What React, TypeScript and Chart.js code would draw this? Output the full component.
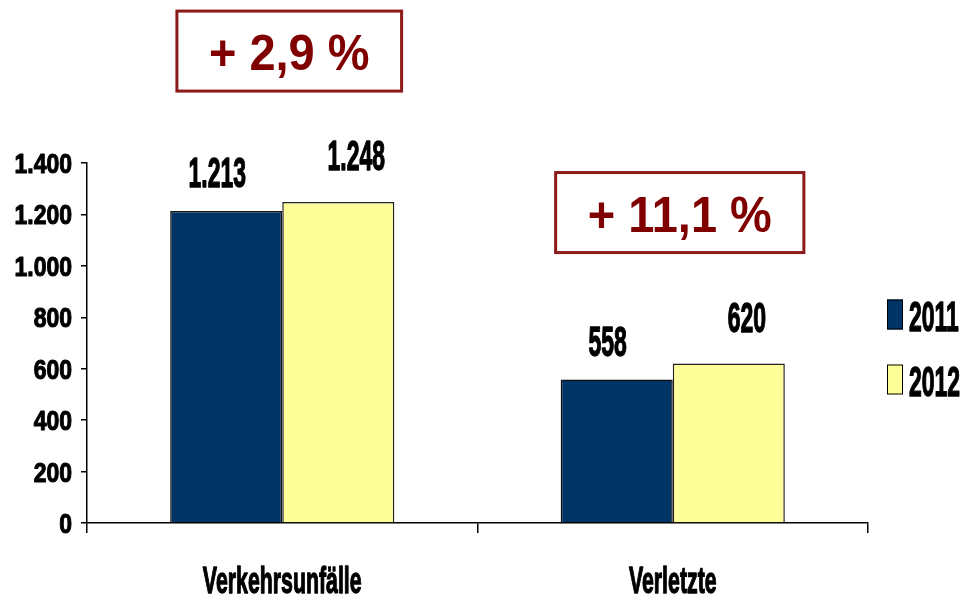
import React, { useEffect, useRef } from "react";
import { Chart, registerables } from "chart.js";

Chart.register(...registerables);

// ---- data ----
const categories = ["Verkehrsunfälle", "Verletzte"];
const seriesNames = ["2011", "2012"];
const values2011 = [1213, 558];
const values2012 = [1248, 620];
const changeLabels = ["+ 2,9 %", "+ 11,1 %"];
const yMin = 0;
const yMax = 1400;
const yStep = 200;

// ---- styles ----
const FONT = '"Liberation Sans", Arial, sans-serif';
const NAVY = "#003366";
const YELLOW = "#FFFF99";
const DARKRED = "#800000";
const NARROW_X = 0.82;

const fmt = (v: number) => String(Math.round(v)).replace(/\B(?=(\d{3})+(?!\d))/g, ".");

function drawText(
  ctx: CanvasRenderingContext2D,
  text: string,
  x: number,
  y: number,
  size: number,
  sx: number,
  sy: number,
  color: string,
  align: CanvasTextAlign = "center",
  heavy = 0
) {
  ctx.save();
  ctx.font = `bold ${size}px ${FONT}`;
  ctx.fillStyle = color;
  ctx.strokeStyle = color;
  ctx.textAlign = align;
  ctx.textBaseline = "alphabetic";
  ctx.translate(x, y);
  ctx.scale(sx, sy);
  ctx.fillText(text, 0, 0);
  if (heavy > 0) {
    ctx.lineWidth = heavy;
    ctx.lineJoin = "round";
    ctx.strokeText(text, 0, 0);
  }
  ctx.restore();
}

const overlayPlugin = {
  id: "overlay",
  afterDraw(chart: any) {
    const ctx: CanvasRenderingContext2D = chart.ctx;
    const area = chart.chartArea;
    const xs = chart.scales.x;
    const ys = chart.scales.y;

    // y tick labels
    ys.ticks.forEach((t: any) => {
      const y = ys.getPixelForValue(t.value);
      drawText(ctx, fmt(t.value), area.left - 15, y + 10, 28, NARROW_X, 1.0, "#000", "right", 1.1);
    });

    // value labels above bars
    chart.data.datasets.forEach((ds: any, di: number) => {
      const meta = chart.getDatasetMeta(di);
      meta.data.forEach((el: any, i: number) => {
        const dx = di === 0 ? -9 : 18;
        const gap = di === 0 ? 24 : 32;
        drawText(ctx, fmt(ds.data[i]), el.x + dx, el.y - gap, 28, NARROW_X, 1.55, "#000", "center", 0.9);
      });
    });

    // category labels
    categories.forEach((c, i) => {
      const x = xs.getPixelForValue(i);
      drawText(ctx, c, x, area.bottom + 70, 26, NARROW_X, 1.45, "#000", "center", 0.9);
    });

    // change boxes
    changeLabels.forEach((t, i) => {
      let topY = Infinity;
      chart.data.datasets.forEach((_: any, di: number) => {
        const el = chart.getDatasetMeta(di).data[i];
        topY = Math.min(topY, el.y);
      });
      const cx = xs.getPixelForValue(i) + 7;
      const bottom = topY - 111;
      const h = 80;
      ctx.save();
      ctx.font = `bold 47px ${FONT}`;
      const w = ctx.measureText(t).width + 64;
      ctx.fillStyle = "#fff";
      ctx.fillRect(cx - w / 2, bottom - h, w, h);
      ctx.strokeStyle = "#8B1A1A";
      ctx.lineWidth = 3;
      ctx.strokeRect(cx - w / 2, bottom - h, w, h);
      ctx.restore();
      drawText(ctx, t, cx, bottom - h / 2 + 19, 47, 1.0, 1.08, DARKRED);
    });

    // legend
    const midY = (area.top + area.bottom) / 2 + 4;
    const spacing = 65;
    chart.data.datasets.forEach((ds: any, di: number) => {
      const cy = midY + (di - (chart.data.datasets.length - 1) / 2) * spacing;
      const rx = area.right + 19;
      ctx.save();
      ctx.fillStyle = ds.backgroundColor;
      ctx.fillRect(rx, cy - 15, 16, 30);
      ctx.strokeStyle = "#000";
      ctx.lineWidth = 1;
      ctx.strokeRect(rx + 0.5, cy - 14.5, 15, 29);
      ctx.restore();
      drawText(ctx, ds.label, rx + 22, cy + 16, 28, NARROW_X, 1.55, "#000", "left", 0.9);
    });
  },
};

export default function App() {
  const ref = useRef<HTMLCanvasElement>(null);

  useEffect(() => {
    const canvas = ref.current;
    if (!canvas) return;
    const chart = new Chart(canvas, {
      type: "bar",
      data: {
        labels: categories,
        datasets: [
          {
            label: seriesNames[0],
            data: values2011,
            backgroundColor: NAVY,
            borderColor: "#111",
            borderWidth: 1.5,
            barPercentage: 1,
            categoryPercentage: 0.574,
          },
          {
            label: seriesNames[1],
            data: values2012,
            backgroundColor: YELLOW,
            borderColor: "#222",
            borderWidth: 1.5,
            barPercentage: 1,
            categoryPercentage: 0.574,
          },
        ],
      },
      options: {
        responsive: false,
        animation: false,
        devicePixelRatio: 1,
        layout: { padding: { top: 163, right: 101, left: 0, bottom: 0 } },
        plugins: {
          legend: { display: false },
          tooltip: { enabled: false },
        },
        scales: {
          x: {
            offset: true,
            grid: {
              offset: true,
              drawOnChartArea: false,
              drawTicks: true,
              tickLength: 10,
              color: "#000",
              lineWidth: 1.5,
            },
            border: { color: "#000", width: 1.5 },
            ticks: { display: false },
            afterFit: (s: any) => {
              s.height = 79;
            },
          },
          y: {
            min: yMin,
            max: yMax,
            ticks: {
              stepSize: yStep,
              display: false,
            },
            grid: {
              drawOnChartArea: false,
              tickLength: 6,
              color: "#000",
              lineWidth: 1.5,
            },
            border: { color: "#000", width: 1.5 },
            afterFit: (s: any) => {
              s.width = 87;
            },
          },
        },
      },
      plugins: [overlayPlugin],
    });
    return () => chart.destroy();
  }, []);

  return (
    <div style={{ position: "absolute", left: 0, top: 0, width: 969, height: 602, background: "#fff" }}>
      <canvas ref={ref} width={969} height={602} style={{ display: "block" }} />
    </div>
  );
}
